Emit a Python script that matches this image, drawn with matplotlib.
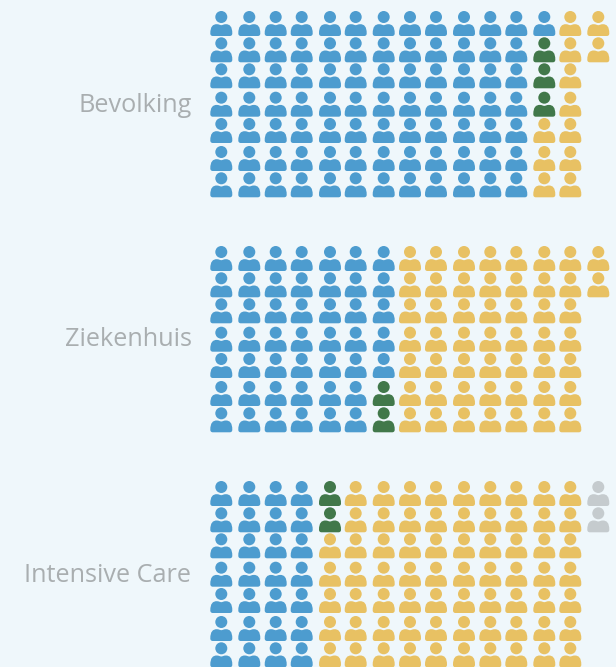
#! /usr/bin/env python3
# -*- coding:utf-8 -*-

# Waffle van poppetjes: elk icoon is 1 procent

import matplotlib
matplotlib.use("Agg")
import matplotlib.pyplot as plt
from matplotlib.patches import PathPatch
from matplotlib.path import Path
from matplotlib.transforms import Affine2D

groepen = ["Bevolking", "Ziekenhuis", "Intensive Care"]

# aantal poppetjes per categorie, kolom voor kolom geteld
blauw = [85, 47, 28]
groen = [3, 2, 2]
geel = [12, 51, 68]
grijs = [0, 0, 2]

kleuren = {"blauw": "#4d9ccf", "groen": "#41784a", "geel": "#e8c163", "grijs": "#c5cbce"}
achtergrond = "#eff7fb"
tekstkleur = "#a9aeb0"

# de kolommen staan niet helemaal regelmatig
kolom_x = [221.3, 249.3, 275.7, 301.7, 330, 355.7, 383.7, 410, 436, 464, 490.3, 516.3, 544.3, 570.3, 598.3]
rij_y = [17, 43.3, 69.3, 97.7, 124, 152, 178.3]
paneel_y = [0, 235, 470]
label_y = [105.5, 339.5, 575.5]


def poppetje():
    # hoofd (cirkel) plus romp met schouders
    hoofd = Path.circle((0, 0), 6)
    vert = [(-11, 16.5), (-11, 9.5), (-8.5, 7.2), (-4.5, 7.2),
            (-2.5, 7.2), (-1, 8.2), (0, 8.2), (1, 8.2), (2.5, 7.2), (4.5, 7.2),
            (8.5, 7.2), (11, 9.5), (11, 16.5),
            (11, 18), (10, 19), (8.5, 19),
            (-8.5, 19),
            (-10, 19), (-11, 18), (-11, 16.5),
            (-11, 16.5)]
    codes = [Path.MOVETO] + [Path.CURVE4] * 15 + [Path.LINETO] + [Path.CURVE4] * 3 + [Path.CLOSEPOLY]
    return Path.make_compound_path(hoofd, Path(vert, codes))


fig = plt.figure(figsize=(6.16, 6.67), dpi=100, facecolor=achtergrond)
ax = fig.add_axes([0, 0, 1, 1])
ax.set_xlim(0, 616)
ax.set_ylim(667, 0)
ax.axis("off")

icoon = poppetje()
for g, naam in enumerate(groepen):
    reeks = ["blauw"] * blauw[g] + ["groen"] * groen[g] + ["geel"] * geel[g] + ["grijs"] * grijs[g]
    for i, k in enumerate(reeks):
        x = kolom_x[i // 7]
        y = rij_y[i % 7] + paneel_y[g]
        t = Affine2D().translate(x, y) + ax.transData
        ax.add_patch(PathPatch(icoon, transform=t, facecolor=kleuren[k], edgecolor="none"))
    ax.text(191.5, label_y[g], naam, ha="right", va="center", color=tekstkleur,
            fontsize=18.2, family="Open Sans")

fig.savefig("out.png", dpi=100, facecolor=achtergrond)
